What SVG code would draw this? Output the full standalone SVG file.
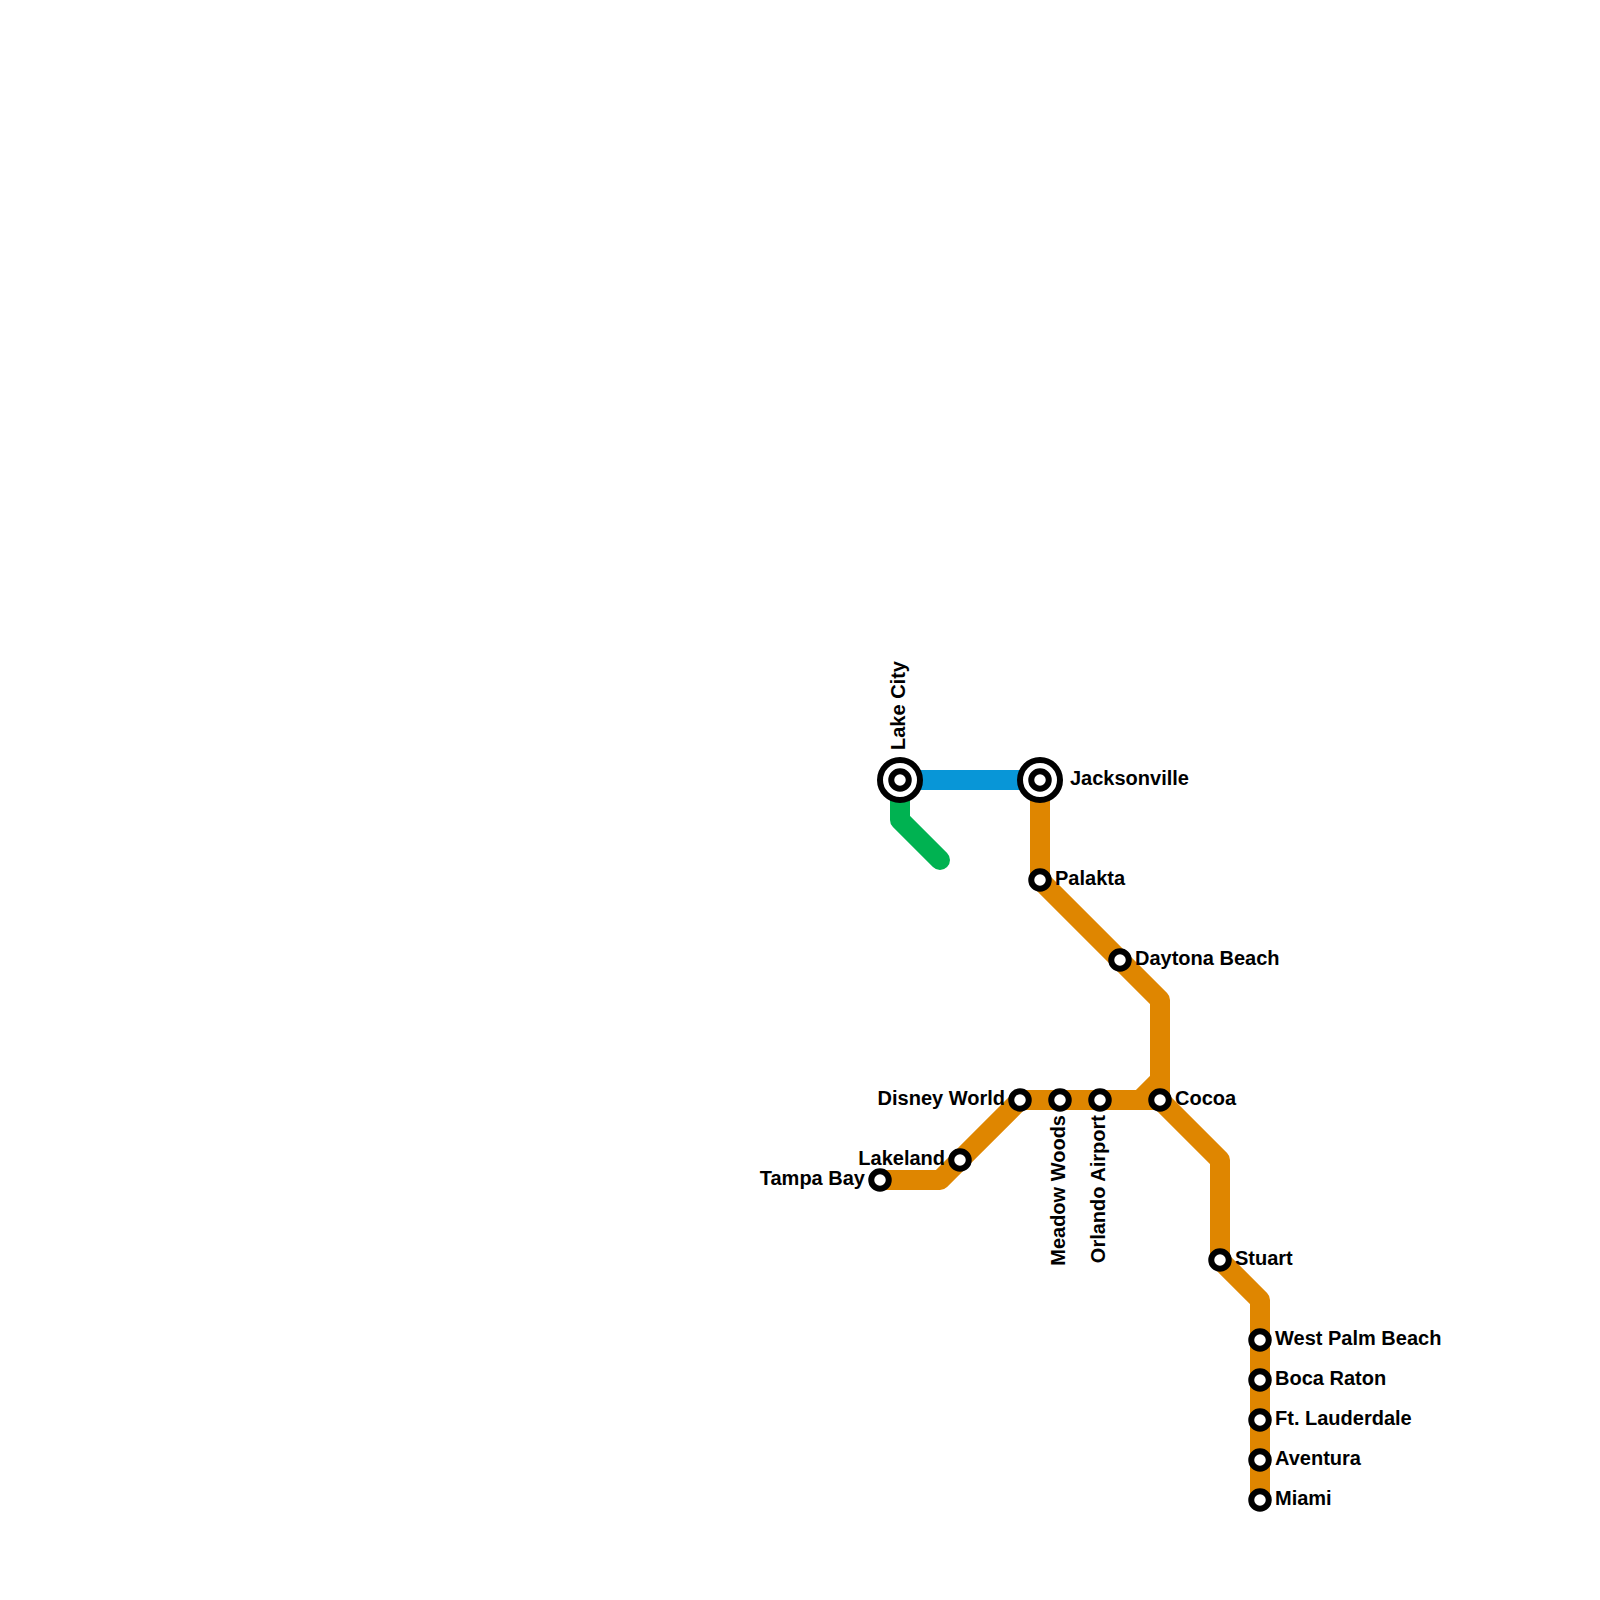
<svg xmlns="http://www.w3.org/2000/svg" width="1600" height="1600" viewBox="0 0 1600 1600">
<style>
.l{fill:none;stroke-width:20;stroke-linejoin:round}
.st{fill:#fff;stroke:#000;stroke-width:6}
text{font-family:"Liberation Sans",Arial,sans-serif;font-weight:bold;font-size:20px;fill:#000}
.e{text-anchor:end}
</style>
<rect width="1600" height="1600" fill="#fff"/>
<g id="connectors">
<path class="l" stroke="#0896d7" d="M900 780H1040"/>
<path class="l" stroke="#00b251" stroke-linecap="round" d="M900 780V820L940 860"/>
<path class="l" stroke="#df8600" d="M1040 780V880L1160 1000V1100L1220 1160V1260L1260 1300V1500"/>
<path class="l" stroke="#df8600" d="M880 1180H940L1020 1100H1140L1160 1080"/>
<path class="l" stroke="#df8600" d="M1130 1100H1160"/>
</g>
<g id="lake-city"><circle class="st" cx="900" cy="780" r="20"/><circle class="st" cx="900" cy="780" r="8.750"/><text transform="translate(905 750) rotate(-90)">Lake City</text></g>
<g id="jacksonville"><circle class="st" cx="1040" cy="780" r="20"/><circle class="st" cx="1040" cy="780" r="8.750"/><text x="1070" y="785">Jacksonville</text></g>
<g id="palakta"><circle class="st" cx="1040" cy="880" r="8.750"/><text x="1055" y="885">Palakta</text></g>
<g id="daytona-beach"><circle class="st" cx="1120" cy="960" r="8.750"/><text x="1135" y="965">Daytona Beach</text></g>
<g id="cocoa"><circle class="st" cx="1160" cy="1100" r="8.750"/><text x="1175" y="1105">Cocoa</text></g>
<g id="orlando-airport"><circle class="st" cx="1100" cy="1100" r="8.750"/><text transform="translate(1105 1115) rotate(-90)" class="e">Orlando Airport</text></g>
<g id="meadow-woods"><circle class="st" cx="1060" cy="1100" r="8.750"/><text transform="translate(1065 1115) rotate(-90)" class="e">Meadow Woods</text></g>
<g id="disney-world"><circle class="st" cx="1020" cy="1100" r="8.750"/><text x="1005" y="1105" class="e">Disney World</text></g>
<g id="lakeland"><circle class="st" cx="960" cy="1160" r="8.750"/><text x="945" y="1165" class="e">Lakeland</text></g>
<g id="tampa-bay"><circle class="st" cx="880" cy="1180" r="8.750"/><text x="865" y="1185" class="e">Tampa Bay</text></g>
<g id="stuart"><circle class="st" cx="1220" cy="1260" r="8.750"/><text x="1235" y="1265">Stuart</text></g>
<g id="west-palm-beach"><circle class="st" cx="1260" cy="1340" r="8.750"/><text x="1275" y="1345">West Palm Beach</text></g>
<g id="boca-raton"><circle class="st" cx="1260" cy="1380" r="8.750"/><text x="1275" y="1385">Boca Raton</text></g>
<g id="ft-lauderdale"><circle class="st" cx="1260" cy="1420" r="8.750"/><text x="1275" y="1425">Ft. Lauderdale</text></g>
<g id="aventura"><circle class="st" cx="1260" cy="1460" r="8.750"/><text x="1275" y="1465">Aventura</text></g>
<g id="miami"><circle class="st" cx="1260" cy="1500" r="8.750"/><text x="1275" y="1505">Miami</text></g>
</svg>
